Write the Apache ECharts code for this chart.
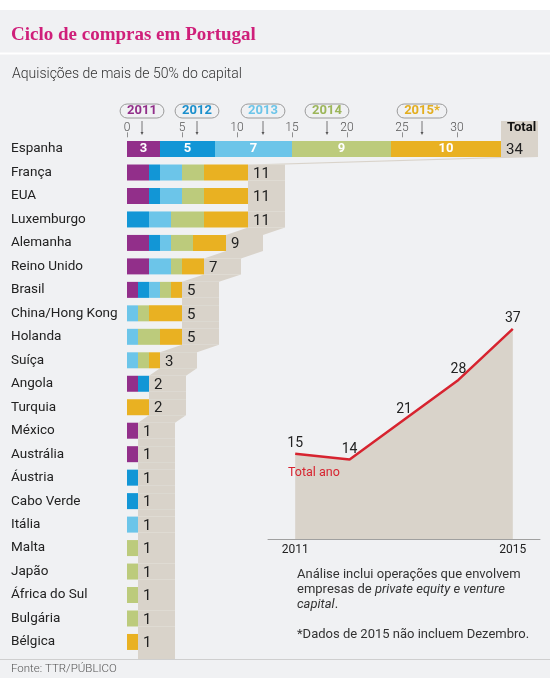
<!DOCTYPE html>
<html><head><meta charset="utf-8">
<script src="https://cdn.jsdelivr.net/npm/echarts@6/dist/echarts.min.js"></script>
<style>html,body{margin:0;padding:0;background:#fff}
#c{width:550px;height:687px;background:linear-gradient(#fff 0,#fff 10px,#f0f1f3 10px,#f0f1f3 678px,#fff 678px)}</style>
</head><body><div id="c"></div><script>
const countries = ['Espanha','França','EUA','Luxemburgo','Alemanha','Reino Unido','Brasil','China/Hong Kong','Holanda','Suíça','Angola','Turquia','México','Austrália','Áustria','Cabo Verde','Itália','Malta','Japão','África do Sul','Bulgária','Bélgica'];
const y2011 = [3,2,2,0,2,2,1,0,0,0,1,0,1,1,0,0,0,0,0,0,0,0];
const y2012 = [5,1,1,2,1,0,1,0,0,0,1,0,0,0,1,1,0,0,0,0,0,0];
const y2013 = [7,2,2,2,1,2,1,1,1,1,0,0,0,0,0,0,1,0,0,0,0,0];
const y2014 = [9,2,2,3,2,1,1,1,2,1,0,0,0,0,0,0,0,1,1,1,1,0];
const y2015 = [10,4,4,4,3,2,1,3,2,1,0,2,0,0,0,0,0,0,0,0,0,1];
const totals = [34,11,11,11,9,7,5,5,5,3,2,2,1,1,1,1,1,1,1,1,1,1];
const xTicks = [0,5,10,15,20,25,30];
const years = ['2011','2012','2013','2014','2015'];
const yearLabels = ['2011','2012','2013','2014','2015*'];
const yearTotals = [15,14,21,28,37];

const colors = ['#922f8a','#1296d6','#6cc5e9','#bccb7c','#e9b122'];
const legendText = ['#922f8a','#1a8fcc','#6cc5e9','#9cb65a','#e3ae1f'];
const beige = '#d9d3ca';
const FONT = 'Roboto, "Liberation Sans", sans-serif';

const chart = echarts.init(document.getElementById('c'), null, {renderer:'canvas'});
const yearData = [y2011,y2012,y2013,y2014,y2015];

const barSeries = yearData.map((d,k)=>({
  name: years[k], type:'bar', stack:'a', barWidth:16, z:3,
  xAxisIndex:0, yAxisIndex:0,
  itemStyle:{color:colors[k]},
  label:{show:true, position:'inside', color:'#fff', fontWeight:'bold', fontSize:13, fontFamily:FONT,
    formatter: p => p.dataIndex===0 ? String(p.value) : ''},
  data:d
}));

const stairs = {
  type:'custom', z:1, xAxisIndex:0, yAxisIndex:0,
  data: totals.map((t,i)=>[t,i]),
  encode:{x:0,y:1},
  renderItem:function(params, api){
    const i = params.dataIndex;
    const p = api.coord([totals[i], i]);
    const W = 37, h = 8;
    const ch = [];
    const top = i===0 ? p[1]-28 : p[1]-h;
    const bottom = i===totals.length-1 ? 659 : p[1]+h;
    ch.push({type:'rect', shape:{x:p[0], y:top, width:W, height:bottom-top}, style:{fill:beige}});
    if (i < totals.length-1){
      const q = api.coord([totals[i+1], i+1]);
      ch.push({type:'polygon', shape:{points:[[p[0],p[1]+h],[p[0]+W,p[1]+h],[q[0]+W,q[1]-h],[q[0],q[1]-h]]}, style:{fill:beige}});
    }
    ch.push({type:'text', z2:10, style:{text:String(totals[i]), x:p[0]+5, y:p[1]+1.5, verticalAlign:'middle', align:'left', fill:'#222', font:'15px '+FONT}});
    if (i===0){
      ch.push({type:'text', z2:10, style:{text:'Total', x:p[0]+6, y:p[1]-21, verticalAlign:'middle', align:'left', fill:'#111', font:'bold 13px '+FONT}});
    }
    return {type:'group', children:ch};
  }
};

const graphics = [
  {type:'line', shape:{x1:0,y1:53.5,x2:550,y2:53.5}, style:{stroke:'#fff', lineWidth:2}},
  {type:'line', shape:{x1:0,y1:659.5,x2:550,y2:659.5}, style:{stroke:'#cfcfcf', lineWidth:1}},
  {type:'text', x:11, y:35, style:{text:'Ciclo de compras em Portugal', fill:'#cf1f7a', font:'bold 19px "Liberation Serif", "DejaVu Serif", serif', verticalAlign:'middle'}},
  {type:'text', x:12, y:74, style:{text:'Aquisições de mais de 50% do capital', fill:'#333', font:'300 14px '+FONT, verticalAlign:'middle'}},
  {type:'text', x:11, y:669, style:{text:'Fonte: TTR/PÚBLICO', fill:'#555', font:'300 11.5px '+FONT, verticalAlign:'middle'}},
  {type:'text', x:288, y:473, z:100, style:{text:'Total ano', fill:'#d7232f', font:'12.5px '+FONT, verticalAlign:'middle'}},
  {type:'text', x:297, y:567.5, style:{
    text:'Análise inclui operações que envolvem\nempresas de {i|private equity e venture}\n{i|capital}.\n\n*Dados de 2015 não incluem Dezembro.',
    fill:'#333', font:'13px '+FONT, lineHeight:15,
    rich:{i:{fontStyle:'italic', fontSize:13, fontFamily:FONT, lineHeight:15, fill:'#333'}}}}
];
const pillX = [142,197,263,327,422];
pillX.forEach((x,k)=>{
  graphics.push({type:'text', x:x, y:111, style:{text:yearLabels[k], fill:legendText[k], font:'bold 13px '+FONT,
    align:'center', verticalAlign:'middle', borderColor:'#9a9a9a', borderWidth:1, borderRadius:8, padding:[1,7,0,7]}});
  graphics.push({type:'line', shape:{x1:x,y1:121,x2:x,y2:133}, style:{stroke:'#555', lineWidth:0.8}});
  graphics.push({type:'polygon', shape:{points:[[x-1.5,132],[x+1.5,132],[x,135]]}, style:{fill:'#555'}});
});

chart.setOption({
  animation:false,
  grid:[
    {left:127, right:5, top:137.3, bottom:33.3},
    {left:268, right:10, top:311.8, bottom:148}
  ],
  xAxis:[
    {type:'value', gridIndex:0, position:'top', min:0, max:38,
     axisLine:{show:false}, splitLine:{show:false},
     axisTick:{show:true, customValues:xTicks, length:5, lineStyle:{color:'#777', width:0.8}},
     axisLabel:{customValues:xTicks, margin:3, color:'#555', fontSize:12, fontFamily:FONT, fontWeight:300}},
    {type:'category', gridIndex:1, data:years, boundaryGap:true,
     axisLine:{lineStyle:{color:'#a0a0a0'}}, axisTick:{show:false},
     axisLabel:{interval:(i)=>i===0||i===years.length-1, color:'#222', fontSize:12, fontFamily:FONT, margin:5}}
  ],
  yAxis:[
    {type:'category', gridIndex:0, data:countries, inverse:true,
     axisLine:{show:false}, axisTick:{show:false}, splitLine:{show:false},
     axisLabel:{align:'left', margin:116, fontSize:13.5, color:'#222', fontFamily:FONT}},
    {type:'value', gridIndex:1, min:0, max:40, show:false}
  ],
  series:[stairs, ...barSeries,
    {type:'line', xAxisIndex:1, yAxisIndex:1, data:yearTotals, symbol:'circle', symbolSize:0,
     lineStyle:{color:'#d7232f', width:2.5}, itemStyle:{color:'#d7232f'},
     areaStyle:{color:beige, opacity:1},
     label:{show:true, position:'top', distance:3, color:'#222', fontSize:14, fontFamily:FONT}}
  ],
  graphic:graphics
});
</script></body></html>
